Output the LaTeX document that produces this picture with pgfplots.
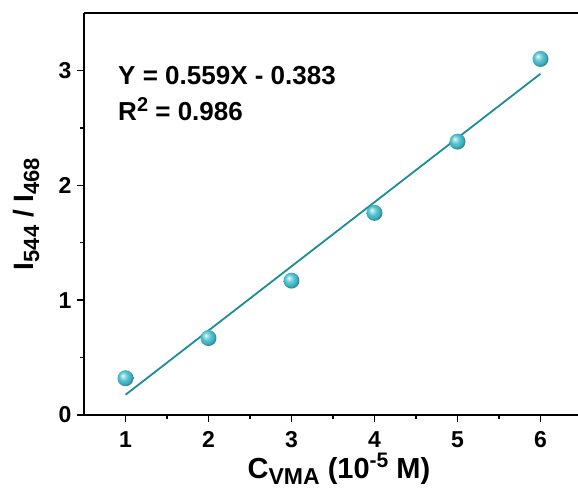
\documentclass[border=0pt]{standalone}
\usepackage{fontspec}
\setmainfont{Liberation Sans}
\usepackage{pgfplots}
\pgfplotsset{compat=1.18}
\definecolor{fitline}{RGB}{28,140,150}
\definecolor{ballcol}{RGB}{72,192,208}
% glossy sphere used as the data marker
\pgfdeclareradialshading{glossball}{\pgfpoint{-9bp}{9bp}}{%
  color(0bp)=(white);
  color(5bp)=(ballcol!45!white);
  color(14bp)=(ballcol!95!white);
  color(22bp)=(ballcol!90!black);
  color(25bp)=(ballcol!75!black);
  color(50bp)=(ballcol!50!black)}
\pgfdeclareplotmark{glossball}{%
  \pgfpathcircle{\pgfpointorigin}{\pgfplotmarksize}%
  \pgfshadepath{glossball}{0}%
  \pgfusepath{discard}}
\newcommand\lo[2][20]{\raisebox{-0.22em}{\fontsize{#1}{#1}\selectfont #2}}
\newcommand\hi[2][18]{\raisebox{0.36em}{\fontsize{#1}{#1}\selectfont #2}}
\begin{document}
\begin{tikzpicture}[x=1pt,y=1pt]
\path[use as bounding box] (-84,-77) rectangle (494,415);
\begin{axis}[
  at={(0,0)}, anchor=south west,
  scale only axis, width=498pt, height=402pt,
  xmin=0.5, xmax=6.5, ymin=0, ymax=3.5,
  axis x line*=box, axis y line*=left,
  axis line style={line width=2pt},
  xtick={1,2,3,4,5,6}, ytick={0,1,2,3},
  minor xtick={1.5,2.5,3.5,4.5,5.5}, minor ytick={0.5,1.5,2.5},
  xtick pos=bottom, ytick pos=left,
  tick align=outside,
  major tick length=7pt, minor tick length=4pt,
  every tick/.style={line width=1.4pt, black},
  /pgf/number format/assume math mode=true,
  ticklabel style={font=\fontsize{23}{25}\selectfont\bfseries},
  xticklabel style={yshift=-6pt},
  yticklabel style={xshift=-2pt},
  xlabel={\bfseries C\lo[23]{VMA} (10\hi[21]{-5} M)},
  ylabel={\bfseries I\lo[22]{544} / I\lo[22]{468}},
  xlabel style={font=\fontsize{29}{31}\selectfont, at={(axis description cs:0.512,-0.157)}, anchor=base},
  ylabel style={font=\fontsize{28}{30}\selectfont, at={(axis description cs:-0.1024,0.5)}, anchor=base},
  clip=false,
]
% linear fit: Y = 0.559X - 0.383
\addplot[fitline, line width=1.8pt] coordinates {(1,0.176) (6,2.971)};
\addplot[only marks, mark=glossball, mark size=8pt]
  coordinates {(1,0.32) (2,0.67) (3,1.17) (4,1.76) (5,2.38) (6,3.10)};
\node[anchor=base west, font=\fontsize{26}{28}\selectfont\bfseries] at (axis cs:0.87,2.88) {Y = 0.559X - 0.383};
\node[anchor=base west, font=\fontsize{26}{28}\selectfont\bfseries] at (axis cs:0.87,2.56) {R\hi[20]{2} = 0.986};
\end{axis}
\end{tikzpicture}
\end{document}
